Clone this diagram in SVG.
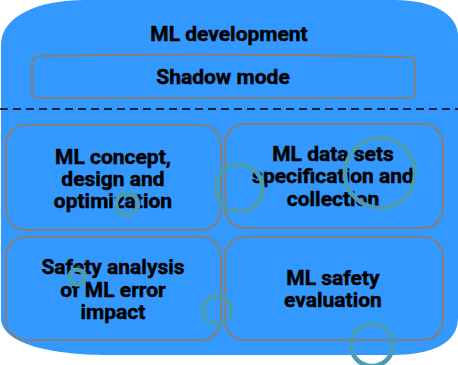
<svg xmlns="http://www.w3.org/2000/svg" width="458" height="365" viewBox="0 0 458 365">
  <style>
    .box { fill: none; stroke: #808080; stroke-width: 2.2; }
    .lbl { font-family: Roboto, "Liberation Sans", sans-serif; font-weight: 700; font-size: 21px; fill: #000; stroke: #000; stroke-width: 0.45; text-anchor: middle; }
    .ring { fill: none; stroke: #4a9cb4; stroke-width: 4.5; }
  </style>
  <rect width="458" height="365" fill="#ffffff"/>

  <!-- container: ML development -->
  <g id="ml-development">
    <path d="M1,45 C1,16 38,0 85,0 L395,0 C432,0 458,14 458,36 L458,318 C458,343 432,355 392,355 L110,355 C45,355 1,342 1,318 Z" fill="#3399ff"/>
    <text class="lbl" x="229" y="41">ML development</text>
  </g>

  <g id="shadow-mode">
    <path class="box" d="M40,56 Q226,53 408,57 Q415,57 415,63 L415,92 Q415,98 408,98 L39,98 Q32,98 32,92 L32,63 Q32,57 40,56 Z"/>
    <text class="lbl" x="223" y="84">Shadow mode</text>
  </g>

  <!-- separator -->
  <g id="connectors">
    <line x1="0" y1="109" x2="458" y2="109" stroke="#000" stroke-width="1.5" stroke-dasharray="8,5"/>
  </g>

  <g id="ml-concept">
    <rect class="box" x="6" y="125" width="215" height="105" rx="20"/>
    <text class="lbl" x="113" y="164">ML concept,</text>
    <text class="lbl" x="113" y="186">design and</text>
    <text class="lbl" x="113" y="208">optimization</text>
  </g>

  <g id="ml-data-sets">
    <rect class="box" x="225" y="124" width="218" height="104" rx="20"/>
    <text class="lbl" x="333" y="161">ML data sets</text>
    <text class="lbl" x="333" y="183">specification and</text>
    <text class="lbl" x="333" y="206">collection</text>
  </g>

  <g id="safety-analysis">
    <rect class="box" x="6" y="237" width="215" height="103" rx="20"/>
    <text class="lbl" x="113" y="274">Safety analysis</text>
    <text class="lbl" x="113" y="297">of ML error</text>
    <text class="lbl" x="113" y="319">impact</text>
  </g>

  <g id="ml-safety-evaluation">
    <rect class="box" x="225" y="237" width="218" height="103" rx="20"/>
    <text class="lbl" x="333" y="285">ML safety</text>
    <text class="lbl" x="333" y="307">evaluation</text>
  </g>

  <!-- teal ring marks -->
  <g id="rings">
    <circle class="ring" cx="127" cy="204" r="11"/>
    <circle class="ring" cx="239" cy="188" r="23.5"/>
    <circle class="ring" cx="380" cy="173" r="35"/>
    <circle class="ring" cx="77" cy="277" r="7.5"/>
    <circle class="ring" cx="217" cy="310" r="14"/>
    <circle class="ring" cx="372" cy="345" r="21"/>
  </g>
</svg>
